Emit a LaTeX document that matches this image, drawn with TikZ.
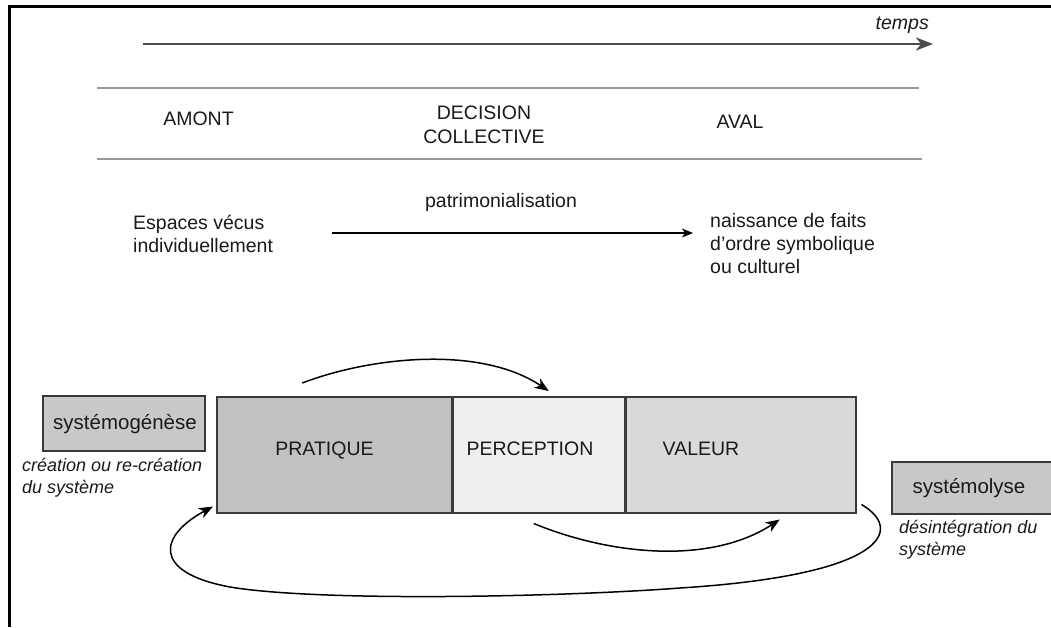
\documentclass[tikz,border=0pt]{standalone}
\usepackage{fontspec}
\setmainfont{Liberation Sans}
\usepackage{tikz}
\usetikzlibrary{arrows.meta,positioning}
\definecolor{pratiqueC}{HTML}{C0C1C0}
\definecolor{perceptionC}{HTML}{EFEFEF}
\definecolor{valeurC}{HTML}{D9D9D9}
\definecolor{sideC}{HTML}{C8C8C8}
\definecolor{edgeC}{HTML}{3A3A3A}
\definecolor{inkC}{HTML}{1A1A1A}

\begin{document}
\begin{tikzpicture}[x=1pt,y=-1pt,>={Stealth[length=14pt,width=11pt,inset=4pt]},
  lbl/.style={inner sep=0pt,text=inkC,font=\fontsize{19.5}{23}\selectfont},
  capt/.style={inner sep=0pt,text=inkC,align=left,anchor=base west,
    font=\fontsize{18}{22}\selectfont\itshape},
  cell/.style={draw=edgeC,line width=1.5pt,anchor=north west,inner sep=0pt},
  sep/.style={draw=black!40,line width=1.5pt},
  flow/.style={->,line width=1.5pt}]
  \useasboundingbox (0,0) rectangle (1051,627);
  \draw[line width=3pt] (9,627) -- (9,6) -- (1051,6);
  \coordinate (t0) at (143,44);
  \coordinate (t1) at (933,44);
  \draw[-{Stealth[length=17pt,width=13pt,inset=5pt]},line width=2.5pt,black!70] (t0) -- (t1);
  \node[lbl,anchor=base east,font=\fontsize{19.5}{23}\selectfont\itshape] (temps) at (929,29) {temps};
  \draw[sep] (97,88) -- (919,88);
  \draw[sep] (97,159) -- (922,159);
  \node[lbl,anchor=base] (amont) at (198.5,125) {AMONT};
  \node[lbl,anchor=base,align=center,font=\fontsize{19.5}{24}\selectfont] (decision) at (484,143.5) {DECISION\\COLLECTIVE};
  \node[lbl,anchor=base] (aval) at (740,128) {AVAL};
  \node[lbl,anchor=base west,align=left] (espaces) at (133,252) {Espaces vécus\\individuellement};
  \node[lbl,anchor=base] (patri) at (501,207) {patrimonialisation};
  \node[lbl,anchor=base west,align=left] (naissance) at (710,273) {naissance de faits\\d’ordre symbolique\\ou culturel};
  \coordinate (p0) at (332,233);
  \coordinate (p1) at (693,233);
  \draw[-{Stealth[length=11pt,width=9pt,inset=3pt]},line width=1.3pt] (p0) -- (p1);
  \node[cell,fill=sideC,minimum width=162pt,minimum height=55pt] (genese) at (42,395) {};
  \node[lbl,anchor=base,font=\fontsize{20.5}{23}\selectfont] (geneseTxt) at (125,429) {systémogénèse};
  \node[capt] (geneseCapt) at (22,493) {création ou re-création\\du système};
  \node[cell,fill=pratiqueC,minimum width=235pt,minimum height=116pt] (pratique) at (216,396) {};
  \node[cell,fill=perceptionC,minimum width=171pt,minimum height=116pt] (perception) at (pratique.north east) {};
  \node[cell,fill=valeurC,minimum width=230pt,minimum height=116pt] (valeur) at (perception.north east) {};
  \node[lbl,anchor=base] (pratiqueTxt) at (324.5,455) {PRATIQUE};
  \node[lbl,anchor=base] (perceptionTxt) at (530,455) {PERCEPTION};
  \node[lbl,anchor=base] (valeurTxt) at (701,455) {VALEUR};
  \node[cell,fill=sideC,minimum width=160pt,minimum height=52pt] (lyse) at (891,461) {};
  \node[lbl,anchor=base,font=\fontsize{20.5}{23}\selectfont] (lyseTxt) at (969,493) {systémolyse};
  \node[capt] (lyseCapt) at (899,555) {désintégration du\\système};
  \draw[flow] ([xshift=-32pt,yshift=13pt]pratique.north)
    .. controls (370,357) and (480,345) .. ([xshift=10pt,yshift=5pt]perception.north);
  \draw[flow] ([xshift=-5pt,yshift=-10pt]perception.south)
    .. controls (610,555) and (710,565) .. ([xshift=39pt,yshift=-6pt]valeur.south);
  \draw[flow] ([xshift=5pt,yshift=9pt]valeur.south east)
    .. controls (905,530) and (885,575) .. (680,588)
    .. controls (560,597) and (320,602) .. (230,587)
    .. controls (150,572) and (160,535) .. ([xshift=-3pt,yshift=7pt]pratique.south west);
\end{tikzpicture}
\end{document}
